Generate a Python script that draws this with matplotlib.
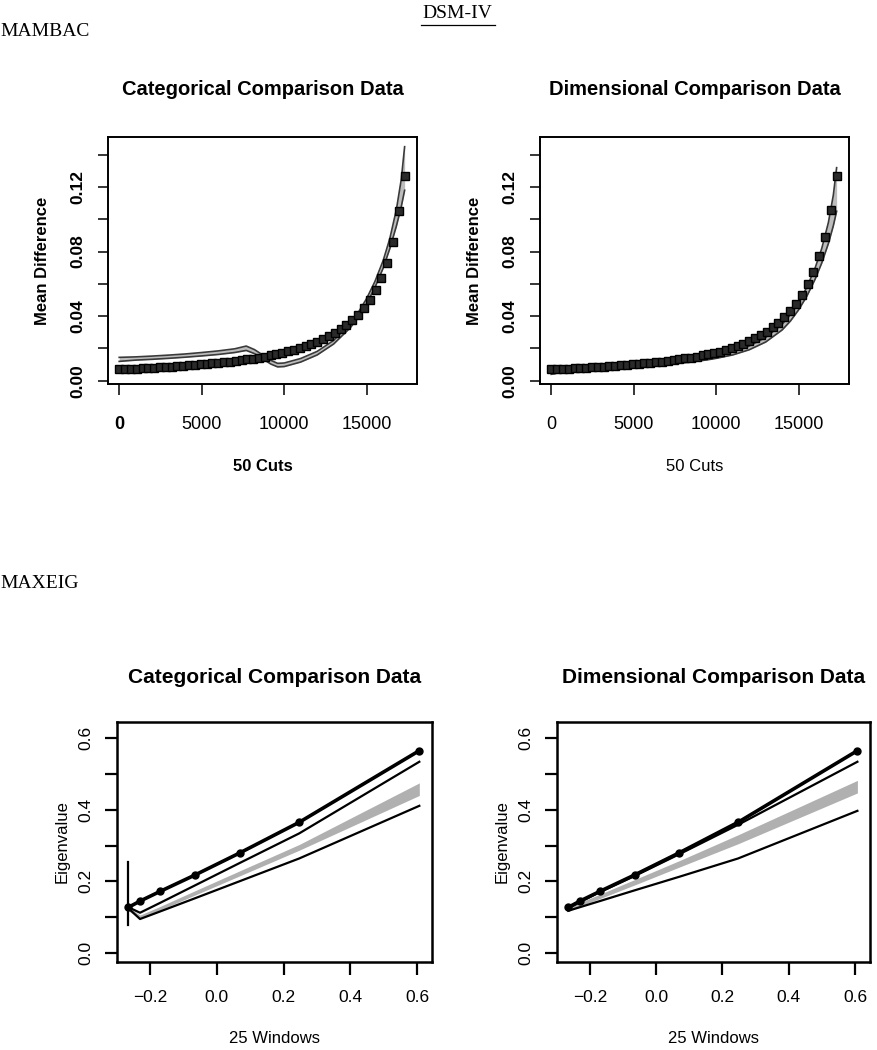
import numpy as np
import matplotlib
matplotlib.use("Agg")
import matplotlib.pyplot as plt

plt.rcParams['font.family'] = ['Liberation Sans', 'DejaVu Sans']

# ---- MAMBAC data (50 cuts) ----
cut_x = np.linspace(0, 17300, 50)

cat_mambac = [0.0070, 0.0072, 0.0074, 0.0076, 0.0077, 0.0079, 0.0081, 0.0083, 0.0085, 0.0087,
              0.0090, 0.0092, 0.0095, 0.0098, 0.0101, 0.0104, 0.0107, 0.0110, 0.0114, 0.0118,
              0.0122, 0.0127, 0.0132, 0.0137, 0.0143, 0.0150, 0.0157, 0.0165, 0.0173, 0.0182,
              0.0192, 0.0203, 0.0215, 0.0228, 0.0243, 0.0259, 0.0277, 0.0297, 0.0320, 0.0346,
              0.0375, 0.0410, 0.0450, 0.0500, 0.0560, 0.0635, 0.0730, 0.0860, 0.1050, 0.1270]

dim_mambac = [0.0070, 0.0072, 0.0073, 0.0075, 0.0077, 0.0079, 0.0081, 0.0083, 0.0085, 0.0087,
              0.0089, 0.0092, 0.0095, 0.0098, 0.0101, 0.0104, 0.0108, 0.0111, 0.0115, 0.0119,
              0.0123, 0.0128, 0.0133, 0.0138, 0.0144, 0.0150, 0.0157, 0.0164, 0.0172, 0.0181,
              0.0191, 0.0202, 0.0214, 0.0228, 0.0244, 0.0262, 0.0282, 0.0305, 0.0331, 0.0360,
              0.0393, 0.0432, 0.0478, 0.0533, 0.0598, 0.0675, 0.0770, 0.0890, 0.1060, 0.1270]

# comparison data band (min / max)
band_x = [0, 1000, 2000, 3000, 4000, 5000, 6000, 7000, 7700, 8200, 8700, 9200, 9600,
          10000, 11000, 12000, 13000, 14000, 14500, 15000, 15500, 16000, 16400, 16800, 17100, 17300]

cat_band_lo = [0.0120, 0.0128, 0.0133, 0.0139, 0.0146, 0.0154, 0.0163, 0.0175, 0.0188, 0.0168,
               0.0135, 0.0103, 0.0086, 0.0088, 0.0116, 0.0160, 0.0228, 0.0328, 0.0393, 0.0478,
               0.0578, 0.0698, 0.0818, 0.0958, 0.1080, 0.1180]
cat_band_hi = [0.0145, 0.0148, 0.0153, 0.0159, 0.0166, 0.0175, 0.0185, 0.0198, 0.0215, 0.0193,
               0.0160, 0.0126, 0.0108, 0.0110, 0.0138, 0.0182, 0.0250, 0.0355, 0.0425, 0.0510,
               0.0615, 0.0745, 0.0880, 0.1060, 0.1250, 0.1450]

dim_band_lo = [0.0040, 0.0060, 0.0068, 0.0074, 0.0080, 0.0086, 0.0093, 0.0101, 0.0108, 0.0113,
               0.0119, 0.0126, 0.0132, 0.0139, 0.0160, 0.0192, 0.0240, 0.0315, 0.0370, 0.0440,
               0.0525, 0.0630, 0.0730, 0.0850, 0.0960, 0.1050]
dim_band_hi = [0.0065, 0.0075, 0.0082, 0.0088, 0.0094, 0.0100, 0.0107, 0.0116, 0.0123, 0.0129,
               0.0136, 0.0143, 0.0150, 0.0157, 0.0180, 0.0215, 0.0268, 0.0350, 0.0410, 0.0485,
               0.0580, 0.0700, 0.0820, 0.0980, 0.1150, 0.1320]

# ---- MAXEIG data (window means) ----
win_x = [-0.265, -0.230, -0.170, -0.065, 0.070, 0.247, 0.607]
cat_eig = [0.1275, 0.145, 0.172, 0.218, 0.280, 0.365, 0.565]
dim_eig = [0.1275, 0.145, 0.172, 0.218, 0.280, 0.365, 0.565]

cat_eig_hi = [0.128, 0.1125, 0.140, 0.189, 0.252, 0.334, 0.534]
cat_eig_lo = [0.125, 0.095, 0.116, 0.153, 0.201, 0.264, 0.411]
cat_eig_band_lo = [0.118, 0.096, 0.120, 0.162, 0.216, 0.287, 0.440]
cat_eig_band_hi = [0.128, 0.106, 0.130, 0.174, 0.230, 0.303, 0.475]
cat_eig_vbar = [0.078, 0.255]

dim_eig_hi = [0.125, 0.142, 0.170, 0.215, 0.276, 0.358, 0.534]
dim_eig_lo = [0.118, 0.128, 0.145, 0.175, 0.213, 0.264, 0.397]
dim_eig_band_lo = [0.120, 0.131, 0.152, 0.190, 0.240, 0.305, 0.447]
dim_eig_band_hi = [0.128, 0.141, 0.164, 0.205, 0.258, 0.330, 0.482]

mambac_yticks = [0.00, 0.02, 0.04, 0.06, 0.08, 0.10, 0.12, 0.14]
mambac_ylabels = ['0.00', '', '0.04', '', '0.08', '', '0.12', '']
mambac_xticks = [0, 5000, 10000, 15000]
eig_yticks = [0.0, 0.1, 0.2, 0.3, 0.4, 0.5, 0.6]
eig_ylabels = ['0.0', '', '0.2', '', '0.4', '', '0.6']
eig_xticks = [-0.2, 0.0, 0.2, 0.4, 0.6]
eig_xlabels = ['\u22120.2', '0.0', '0.2', '0.4', '0.6']

W, H = 877, 1050
fig = plt.figure(figsize=(W / 100, H / 100), dpi=100)


def px_axes(l, t, r, b):
    return fig.add_axes([l / W, 1 - b / H, (r - l) / W, (b - t) / H])


def ftext(x, y, s, **kw):
    fig.text(x / W, 1 - y / H, s, **kw)


serif = ['Liberation Serif', 'DejaVu Serif']
ftext(457, 14, 'DSM-IV', family=serif, fontsize=14, ha='center', va='center')
fig.add_artist(plt.Line2D([421 / W, 495 / W], [1 - 25 / H, 1 - 25 / H], color='black', lw=0.9))
ftext(0, 31, 'MAMBAC', family=serif, fontsize=14, ha='left', va='center')
ftext(0, 583, 'MAXEIG', family=serif, fontsize=14, ha='left', va='center')


def mambac_panel(ax, y, lo, hi, title, xlab_bold):
    ax.fill_between(band_x, lo, hi, color='#bdbdbd', lw=0)
    ax.plot(band_x, lo, color='#3a3a3a', lw=1.2)
    ax.plot(band_x, hi, color='#3a3a3a', lw=1.2)
    ax.plot(cut_x, y, ls='none', marker='s', ms=6.3, mfc='#2a2a2a', mec='black', mew=1.0)
    ax.set_xlim(-680, 18050)
    ax.set_ylim(-0.002, 0.151)
    ax.set_xticks(mambac_xticks)
    ax.set_xticklabels([str(v) for v in mambac_xticks], fontsize=13)
    ax.set_yticks(mambac_yticks)
    ax.set_yticklabels(mambac_ylabels, fontsize=12.5, rotation=90, va='center', fontweight='bold')
    ax.tick_params(axis='x', direction='out', length=8, width=1.1, pad=15)
    ax.tick_params(axis='y', direction='out', length=7, width=1.1, pad=9)
    for s in ax.spines.values():
        s.set_linewidth(1.4)
    ax.set_title(title, fontsize=14.5, fontweight='bold', pad=30)
    ax.set_ylabel('Mean Difference', fontsize=12, fontweight='bold', labelpad=15)
    ax.set_xlabel('50 Cuts', fontsize=12, fontweight='bold' if xlab_bold else 'normal', labelpad=19)


ax1 = px_axes(108, 137, 417, 384)
mambac_panel(ax1, cat_mambac, cat_band_lo, cat_band_hi, 'Categorical Comparison Data', True)
ax1.get_xticklabels()[0].set_fontweight('bold')

ax2 = px_axes(540, 137, 849, 384)
mambac_panel(ax2, dim_mambac, dim_band_lo, dim_band_hi, 'Dimensional Comparison Data', False)


def maxeig_panel(ax, y, lo, hi, blo, bhi, title):
    ax.fill_between(win_x, blo, bhi, color='#b0b0b0', lw=0)
    ax.plot(win_x, lo, color='black', lw=1.6)
    ax.plot(win_x, hi, color='black', lw=1.6)
    ax.plot(win_x, y, color='black', lw=2.6, marker='o', ms=5)
    ax.set_xlim(-0.299, 0.645)
    ax.set_ylim(-0.025, 0.645)
    ax.set_xticks(eig_xticks)
    ax.set_xticklabels(eig_xlabels, fontsize=12.5)
    ax.set_yticks(eig_yticks)
    ax.set_yticklabels(eig_ylabels, fontsize=12.5, rotation=90, va='center')
    ax.tick_params(axis='x', direction='out', length=9, width=1.6, pad=11)
    ax.tick_params(axis='y', direction='out', length=9, width=1.6, pad=8)
    for s in ax.spines.values():
        s.set_linewidth(1.8)
    ax.set_title(title, fontsize=15, fontweight='bold', pad=28)
    ax.set_ylabel('Eigenvalue', fontsize=12, labelpad=6)
    ax.set_xlabel('25 Windows', fontsize=12, labelpad=19)


ax3 = px_axes(117, 722, 432, 962)
maxeig_panel(ax3, cat_eig, cat_eig_lo, cat_eig_hi, cat_eig_band_lo, cat_eig_band_hi,
             'Categorical Comparison Data')
ax3.plot([win_x[0], win_x[0]], cat_eig_vbar, color='black', lw=1.6)

ax4 = px_axes(557, 722, 870, 962)
maxeig_panel(ax4, dim_eig, dim_eig_lo, dim_eig_hi, dim_eig_band_lo, dim_eig_band_hi,
             'Dimensional Comparison Data')

fig.savefig('out.png', dpi=100)
